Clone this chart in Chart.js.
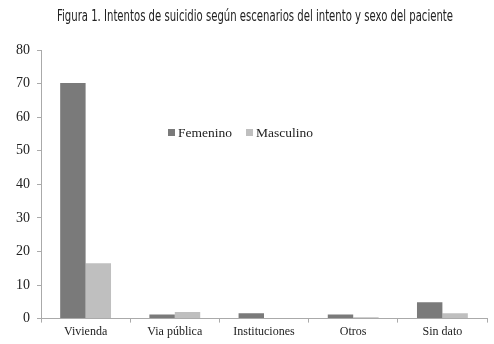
<!DOCTYPE html>
<html>
<head>
<meta charset="utf-8">
<script src="https://cdn.jsdelivr.net/npm/chart.js@4"></script>
<style>
  body { margin: 0; background: #fff; }
  #wrap { width: 494px; height: 344px; }
</style>
</head>
<body>
<div id="wrap"><canvas id="grafico"></canvas></div>
<script>
const titulo = "Figura 1. Intentos de suicidio según escenarios del intento y sexo del paciente";
const categorias = ["Vivienda", "Via pública", "Instituciones", "Otros", "Sin dato"];
const femenino = [70.2, 1.2, 1.6, 1.2, 4.9];
const masculino = [16.5, 2.0, 0, 0.4, 1.6];
const ticksY = [0, 10, 20, 30, 40, 50, 60, 70, 80];

const serif = "'Liberation Serif', 'DejaVu Serif', serif";

// titulo angosto (fuente condensada) y leyenda dentro del area
const extras = {
    id: "extras",
    afterDraw(chart) {
        const ctx = chart.ctx;
        ctx.save();
        ctx.font = "15px 'DejaVu Sans Condensed', 'DejaVu Sans', sans-serif";
        ctx.fillStyle = "#222";
        ctx.textBaseline = "middle";
        ctx.textAlign = "center";
        const w = ctx.measureText(titulo).width;
        const sx = 396 / w;
        ctx.translate(255, 17);
        ctx.scale(sx, 1);
        ctx.fillText(titulo, 0, 0);
        ctx.restore();

        let x = 168;
        const y = 132;
        ctx.save();
        ctx.font = "13.5px " + serif;
        ctx.textBaseline = "middle";
        chart.data.datasets.forEach(ds => {
            ctx.fillStyle = ds.backgroundColor;
            ctx.fillRect(x, y - 3, 7, 7);
            ctx.fillStyle = "#222";
            ctx.fillText(ds.label, x + 10, y + 1);
            x += 10 + ctx.measureText(ds.label).width + 14;
        });
        ctx.restore();
    }
};

new Chart(document.getElementById("grafico"), {
    type: "bar",
    data: {
        labels: categorias,
        datasets: [
            { label: "Femenino", data: femenino, backgroundColor: "#7a7a7a" },
            { label: "Masculino", data: masculino, backgroundColor: "#bfbfbf" }
        ]
    },
    options: {
        responsive: true,
        maintainAspectRatio: false,
        animation: false,
        layout: { padding: { left: 9, right: 7, top: 50, bottom: 3 } },
        datasets: { bar: { categoryPercentage: 0.57, barPercentage: 1 } },
        plugins: {
            legend: { display: false },
            tooltip: { enabled: false },
            title: { display: false }
        },
        scales: {
            x: {
                grid: { display: true, drawOnChartArea: false, offset: true, tickLength: 4, color: "#aaa" },
                border: { color: "#aaa" },
                ticks: { color: "#222", font: { family: serif, size: 12 }, padding: 2 }
            },
            y: {
                min: 0,
                max: 80,
                afterBuildTicks: axis => { axis.ticks = ticksY.map(v => ({ value: v })); },
                grid: { display: true, drawOnChartArea: false, tickLength: 4, color: "#aaa" },
                border: { color: "#aaa" },
                ticks: { color: "#222", font: { family: serif, size: 14 }, padding: 7 }
            }
        }
    },
    plugins: [extras]
});
</script>
</body>
</html>
